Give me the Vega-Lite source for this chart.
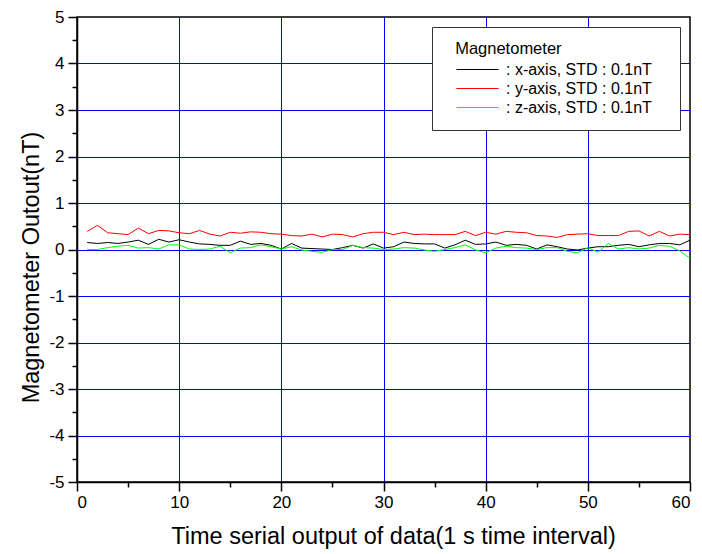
{
"$schema": "https://vega.github.io/schema/vega-lite/v6.json",
"width": 613, "height": 465,
"autosize": "none",
"padding": {"left": 77, "top": 17, "right": 12, "bottom": 72},
"background": "white",
"config": {
  "font": "Liberation Sans",
  "view": {"stroke": "black", "strokeWidth": 1.5},
  "axis": {"labelFont": "Liberation Sans", "titleFont": "Liberation Sans", "labelColor": "black", "titleColor": "black", "titleFontWeight": "normal", "domainColor": "black", "tickColor": "black", "labelFontSize": 17, "titleFontSize": 23.5}
},
"data": {"values": [
{"t":1,"v":0.15,"s":"x"},{"t":2,"v":0.13,"s":"x"},{"t":3,"v":0.15,"s":"x"},{"t":4,"v":0.13,"s":"x"},{"t":5,"v":0.16,"s":"x"},{"t":6,"v":0.20,"s":"x"},{"t":7,"v":0.11,"s":"x"},{"t":8,"v":0.22,"s":"x"},{"t":9,"v":0.16,"s":"x"},{"t":10,"v":0.21,"s":"x"},
{"t":11,"v":0.16,"s":"x"},{"t":12,"v":0.12,"s":"x"},{"t":13,"v":0.11,"s":"x"},{"t":14,"v":0.09,"s":"x"},{"t":15,"v":0.09,"s":"x"},{"t":16,"v":0.18,"s":"x"},{"t":17,"v":0.11,"s":"x"},{"t":18,"v":0.13,"s":"x"},{"t":19,"v":0.09,"s":"x"},{"t":20,"v":0.01,"s":"x"},
{"t":21,"v":0.13,"s":"x"},{"t":22,"v":0.03,"s":"x"},{"t":23,"v":0.02,"s":"x"},{"t":24,"v":0.01,"s":"x"},{"t":25,"v":0.00,"s":"x"},{"t":26,"v":0.04,"s":"x"},{"t":27,"v":0.09,"s":"x"},{"t":28,"v":0.03,"s":"x"},{"t":29,"v":0.12,"s":"x"},{"t":30,"v":0.03,"s":"x"},
{"t":31,"v":0.06,"s":"x"},{"t":32,"v":0.16,"s":"x"},{"t":33,"v":0.13,"s":"x"},{"t":34,"v":0.12,"s":"x"},{"t":35,"v":0.12,"s":"x"},{"t":36,"v":0.03,"s":"x"},{"t":37,"v":0.10,"s":"x"},{"t":38,"v":0.20,"s":"x"},{"t":39,"v":0.11,"s":"x"},{"t":40,"v":0.12,"s":"x"},
{"t":41,"v":0.16,"s":"x"},{"t":42,"v":0.09,"s":"x"},{"t":43,"v":0.11,"s":"x"},{"t":44,"v":0.09,"s":"x"},{"t":45,"v":0.01,"s":"x"},{"t":46,"v":0.10,"s":"x"},{"t":47,"v":0.06,"s":"x"},{"t":48,"v":0.01,"s":"x"},{"t":49,"v":-0.01,"s":"x"},{"t":50,"v":0.03,"s":"x"},
{"t":51,"v":0.06,"s":"x"},{"t":52,"v":0.06,"s":"x"},{"t":53,"v":0.09,"s":"x"},{"t":54,"v":0.11,"s":"x"},{"t":55,"v":0.06,"s":"x"},{"t":56,"v":0.10,"s":"x"},{"t":57,"v":0.13,"s":"x"},{"t":58,"v":0.13,"s":"x"},{"t":59,"v":0.10,"s":"x"},{"t":60,"v":0.20,"s":"x"},
{"t":1,"v":0.39,"s":"y"},{"t":2,"v":0.52,"s":"y"},{"t":3,"v":0.36,"s":"y"},{"t":4,"v":0.34,"s":"y"},{"t":5,"v":0.32,"s":"y"},{"t":6,"v":0.46,"s":"y"},{"t":7,"v":0.34,"s":"y"},{"t":8,"v":0.41,"s":"y"},{"t":9,"v":0.40,"s":"y"},{"t":10,"v":0.36,"s":"y"},
{"t":11,"v":0.34,"s":"y"},{"t":12,"v":0.41,"s":"y"},{"t":13,"v":0.33,"s":"y"},{"t":14,"v":0.29,"s":"y"},{"t":15,"v":0.37,"s":"y"},{"t":16,"v":0.35,"s":"y"},{"t":17,"v":0.38,"s":"y"},{"t":18,"v":0.37,"s":"y"},{"t":19,"v":0.34,"s":"y"},{"t":20,"v":0.33,"s":"y"},
{"t":21,"v":0.30,"s":"y"},{"t":22,"v":0.29,"s":"y"},{"t":23,"v":0.33,"s":"y"},{"t":24,"v":0.27,"s":"y"},{"t":25,"v":0.33,"s":"y"},{"t":26,"v":0.32,"s":"y"},{"t":27,"v":0.27,"s":"y"},{"t":28,"v":0.34,"s":"y"},{"t":29,"v":0.37,"s":"y"},{"t":30,"v":0.37,"s":"y"},
{"t":31,"v":0.32,"s":"y"},{"t":32,"v":0.37,"s":"y"},{"t":33,"v":0.32,"s":"y"},{"t":34,"v":0.33,"s":"y"},{"t":35,"v":0.32,"s":"y"},{"t":36,"v":0.32,"s":"y"},{"t":37,"v":0.32,"s":"y"},{"t":38,"v":0.39,"s":"y"},{"t":39,"v":0.30,"s":"y"},{"t":40,"v":0.37,"s":"y"},
{"t":41,"v":0.33,"s":"y"},{"t":42,"v":0.39,"s":"y"},{"t":43,"v":0.37,"s":"y"},{"t":44,"v":0.36,"s":"y"},{"t":45,"v":0.30,"s":"y"},{"t":46,"v":0.29,"s":"y"},{"t":47,"v":0.26,"s":"y"},{"t":48,"v":0.32,"s":"y"},{"t":49,"v":0.33,"s":"y"},{"t":50,"v":0.34,"s":"y"},
{"t":51,"v":0.30,"s":"y"},{"t":52,"v":0.30,"s":"y"},{"t":53,"v":0.30,"s":"y"},{"t":54,"v":0.39,"s":"y"},{"t":55,"v":0.40,"s":"y"},{"t":56,"v":0.29,"s":"y"},{"t":57,"v":0.39,"s":"y"},{"t":58,"v":0.29,"s":"y"},{"t":59,"v":0.33,"s":"y"},{"t":60,"v":0.32,"s":"y"},
{"t":1,"v":0.00,"s":"z"},{"t":2,"v":0.00,"s":"z"},{"t":3,"v":0.04,"s":"z"},{"t":4,"v":0.07,"s":"z"},{"t":5,"v":0.09,"s":"z"},{"t":6,"v":0.03,"s":"z"},{"t":7,"v":0.04,"s":"z"},{"t":8,"v":0.01,"s":"z"},{"t":9,"v":0.10,"s":"z"},{"t":10,"v":0.10,"s":"z"},
{"t":11,"v":0.01,"s":"z"},{"t":12,"v":0.00,"s":"z"},{"t":13,"v":0.01,"s":"z"},{"t":14,"v":0.07,"s":"z"},{"t":15,"v":-0.07,"s":"z"},{"t":16,"v":0.03,"s":"z"},{"t":17,"v":0.04,"s":"z"},{"t":18,"v":0.10,"s":"z"},{"t":19,"v":0.06,"s":"z"},{"t":20,"v":0.01,"s":"z"},
{"t":21,"v":0.06,"s":"z"},{"t":22,"v":-0.01,"s":"z"},{"t":23,"v":-0.04,"s":"z"},{"t":24,"v":-0.06,"s":"z"},{"t":25,"v":0.00,"s":"z"},{"t":26,"v":0.00,"s":"z"},{"t":27,"v":0.09,"s":"z"},{"t":28,"v":0.04,"s":"z"},{"t":29,"v":0.03,"s":"z"},{"t":30,"v":0.00,"s":"z"},
{"t":31,"v":0.01,"s":"z"},{"t":32,"v":0.04,"s":"z"},{"t":33,"v":0.03,"s":"z"},{"t":34,"v":-0.01,"s":"z"},{"t":35,"v":-0.04,"s":"z"},{"t":36,"v":0.00,"s":"z"},{"t":37,"v":0.04,"s":"z"},{"t":38,"v":0.10,"s":"z"},{"t":39,"v":-0.01,"s":"z"},{"t":40,"v":-0.07,"s":"z"},
{"t":41,"v":0.03,"s":"z"},{"t":42,"v":0.07,"s":"z"},{"t":43,"v":0.04,"s":"z"},{"t":44,"v":0.03,"s":"z"},{"t":45,"v":0.00,"s":"z"},{"t":46,"v":0.04,"s":"z"},{"t":47,"v":0.04,"s":"z"},{"t":48,"v":-0.04,"s":"z"},{"t":49,"v":-0.07,"s":"z"},{"t":50,"v":0.04,"s":"z"},
{"t":51,"v":-0.06,"s":"z"},{"t":52,"v":0.13,"s":"z"},{"t":53,"v":0.01,"s":"z"},{"t":54,"v":0.04,"s":"z"},{"t":55,"v":0.01,"s":"z"},{"t":56,"v":0.03,"s":"z"},{"t":57,"v":0.09,"s":"z"},{"t":58,"v":0.07,"s":"z"},{"t":59,"v":-0.03,"s":"z"},{"t":60,"v":-0.19,"s":"z"}
]},
"layer": [
 {"mark": {"type": "point", "opacity": 0},
  "encoding": {
   "x": {"field": "t", "type": "quantitative", "scale": {"domain": [0, 60], "nice": false, "zero": false},
         "axis": {"orient": "bottom", "values": [10, 20, 30, 40, 50], "grid": true, "gridColor": "#0000ff", "gridWidth": 1, "gridOpacity": 1, "ticks": false, "labels": false, "domain": false, "title": null, "zindex": 0}},
   "y": {"field": "v", "type": "quantitative", "scale": {"domain": [-5, 5], "nice": false, "zero": false},
         "axis": {"orient": "left", "values": [-4, -3, -2, -1, 0, 1, 2, 3, 4], "grid": true, "gridColor": "#0000ff", "gridWidth": 1, "gridOpacity": 1, "ticks": false, "labels": false, "domain": false, "title": null, "zindex": 0}}
  }},
 {"mark": {"type": "point", "opacity": 0},
  "encoding": {
   "x": {"field": "t", "type": "quantitative", "scale": {"domain": [0, 60], "nice": false, "zero": false},
         "axis": {"orient": "bottom", "values": [5, 15, 25, 35, 45, 55], "grid": false, "tickSize": 5, "tickWidth": 1.5, "labels": false, "domain": false, "title": null}},
   "y": {"field": "v", "type": "quantitative", "scale": {"domain": [-5, 5], "nice": false, "zero": false},
         "axis": {"orient": "left", "values": [-4.5, -3.5, -2.5, -1.5, -0.5, 0.5, 1.5, 2.5, 3.5, 4.5], "grid": false, "tickSize": 5, "tickWidth": 1.5, "labels": false, "domain": false, "title": null}}
  }},
 {"mark": {"type": "line", "strokeWidth": 1},
  "encoding": {
   "x": {"field": "t", "type": "quantitative", "scale": {"domain": [0, 60], "nice": false, "zero": false},
         "axis": {"orient": "bottom", "values": [0, 10, 20, 30, 40, 50, 60], "grid": false, "tickSize": 9, "tickWidth": 1.5, "domainWidth": 1.5, "labelPadding": 3, "title": "Time serial output of data(1 s time interval)", "titlePadding": 14, "titleX": 316}},
   "y": {"field": "v", "type": "quantitative", "scale": {"domain": [-5, 5], "nice": false, "zero": false},
         "axis": {"orient": "left", "values": [-5, -4, -3, -2, -1, 0, 1, 2, 3, 4, 5], "labelExpr": "datum.value < 0 ? '-' + abs(datum.value) : '' + datum.value", "grid": false, "tickSize": 9, "tickWidth": 1.5, "domainWidth": 1.5, "labelPadding": 4, "title": "Magnetometer Outout(nT)", "titlePadding": 5, "titleY": 250}},
   "color": {"field": "s", "type": "nominal",
     "scale": {"domain": ["x", "y", "z"], "range": ["#000000", "#ff0000", "#00ff00"]},
     "legend": {"orient": "none", "legendX": 355, "legendY": 10,
       "title": "\u200b\u00a0\u00a0Magnetometer", "titleFont": "Liberation Sans", "titleFontSize": 16.5, "titleFontWeight": "normal", "titleColor": "black", "titlePadding": 4,
       "labelFont": "Liberation Sans", "labelFontSize": 16, "labelColor": "black", "labelLimit": 400,
       "labelExpr": "': ' + datum.label + '-axis, STD : 0.1nT\u00a0\u00a0\u00a0\u200b'",
       "symbolType": "M-5,0H5", "symbolSize": 71, "symbolStrokeWidth": 1.2, "symbolOffset": 23.5, "labelOffset": 20.5,
       "rowPadding": 3, "padding": 14, "strokeColor": "#333333", "fillColor": "white"}}
  }}
],
"resolve": {"axis": {"x": "independent", "y": "independent"}}
}
